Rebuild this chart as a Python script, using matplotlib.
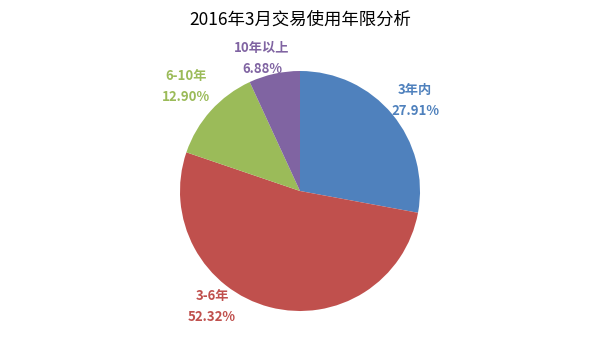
import matplotlib.pyplot as plt

plt.rcParams['font.family'] = ['Noto Sans CJK SC', 'DejaVu Sans']

title = "2016年3月交易使用年限分析"
categories = ["3年内", "3-6年", "6-10年", "10年以上"]
shares = [27.91, 52.32, 12.90, 6.88]
colors = ["#4F81BD", "#C0504D", "#9BBB59", "#8064A2"]
# label centres in pixels (x from left, y from top)
label_pos = [(415, 100), (212, 306), (186, 86), (262, 58)]

W, H = 600, 342
fig = plt.figure(figsize=(6, 3.42), dpi=100)
ax = fig.add_axes([0, 0, 1, 1])

ax.pie(
    shares,
    colors=colors,
    startangle=90,
    counterclock=False,
    center=(300, H - 191),
    radius=120,
    wedgeprops=dict(linewidth=0),
    frame=True,
)
ax.set_xlim(0, W)
ax.set_ylim(0, H)
ax.set_aspect("equal")
ax.axis("off")

for name, val, col, (x, y) in zip(categories, shares, colors, label_pos):
    ax.text(x, H - y + 10, name, color=col, fontsize=9.5, fontweight="bold",
            ha="center", va="center")
    ax.text(x, H - y - 11, f"{val:.2f}%", color=col, fontsize=9.5,
            fontweight="bold", ha="center", va="center")

ax.text(300, H - 20, title, fontsize=12.5, ha="center", va="center")

fig.savefig("out.png", dpi=100)
